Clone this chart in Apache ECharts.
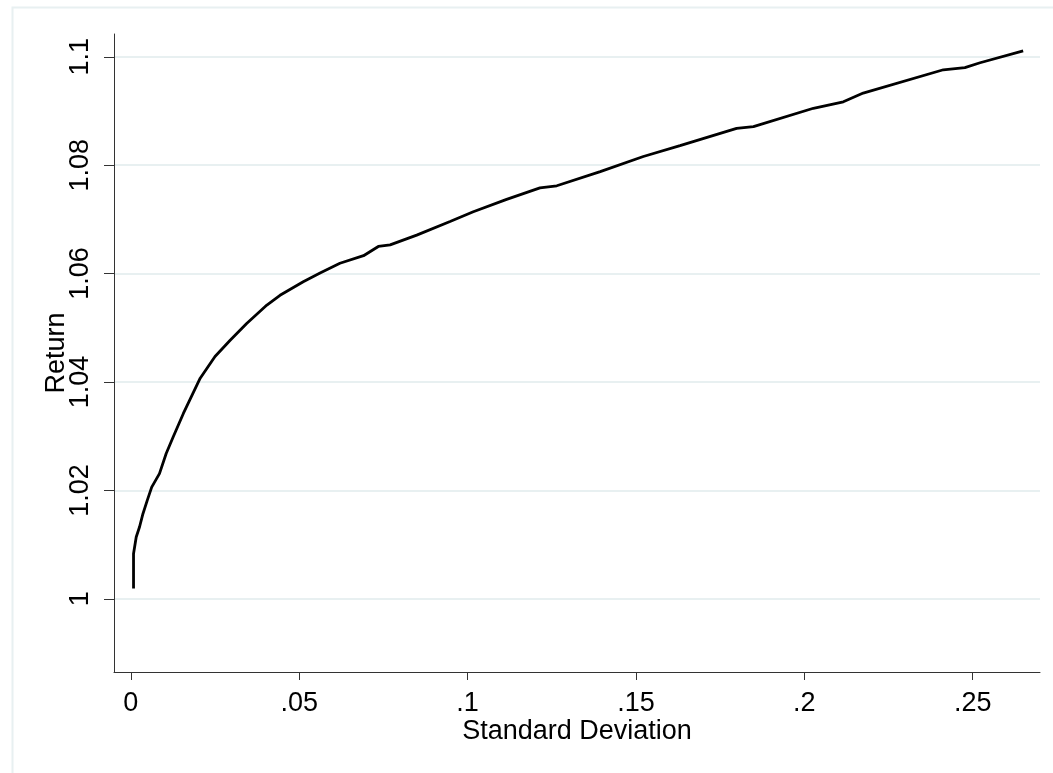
<!DOCTYPE html>
<html>
<head>
<meta charset="utf-8">
<script src="https://cdn.jsdelivr.net/npm/echarts@6/dist/echarts.min.js"></script>
<style>
html,body{margin:0;padding:0;background:#fff;}
#chart{width:1053px;height:773px;}
</style>
</head>
<body>
<div id="chart"></div>
<script>
// Standard deviation (x) and return (y) of the frontier curve
const stdDev = [0.0008,0.0008,0.0016,0.0026,0.0036,0.0049,0.0062,0.0085,0.0105,0.0126,
  0.0156,0.0206,0.0250,0.0295,0.0344,0.0404,0.0443,0.0512,0.0562,0.0621,
  0.0691,0.0735,0.0770,0.0849,0.0948,0.1017,0.1116,0.1215,0.1265,0.1394,
  0.1522,0.1631,0.1799,0.1849,0.2027,0.2116,0.2175,0.2413,0.2477,0.2522,0.2650];
const returns = [1.0019,1.0083,1.0114,1.0133,1.0157,1.0182,1.0206,1.0231,1.0268,1.0299,
  1.0342,1.0407,1.0447,1.0477,1.0508,1.0542,1.0560,1.0585,1.0601,1.0619,
  1.0633,1.0650,1.0653,1.0671,1.0696,1.0714,1.0737,1.0758,1.0762,1.0788,
  1.0816,1.0836,1.0868,1.0871,1.0905,1.0917,1.0933,1.0976,1.0980,1.0989,1.1011];
const xTicks = [0, 0.05, 0.1, 0.15, 0.2, 0.25];
const xTickLabels = ['0', '.05', '.1', '.15', '.2', '.25'];
const yTicks = [1, 1.02, 1.04, 1.06, 1.08, 1.1];
const yTickLabels = ['1', '1.02', '1.04', '1.06', '1.08', '1.1'];

function labelFor(v, ticks, labels) {
  let best = 0, bd = Infinity;
  ticks.forEach((t, i) => { const d = Math.abs(t - v); if (d < bd) { bd = d; best = i; } });
  return labels[best];
}

const chart = echarts.init(document.getElementById('chart'), null, {renderer: 'canvas'});
const font = 'Liberation Sans, Arial, sans-serif';
chart.setOption({
  backgroundColor: '#ffffff',
  animation: false,
  graphic: [{
    type: 'rect', left: 10, top: 5, silent: true, z: -10,
    shape: {width: 1100, height: 820},
    style: {fill: 'none', stroke: '#e8f0f1', lineWidth: 2}
  }],
  grid: {left: 114, top: 34, right: 13, bottom: 101},
  xAxis: {
    type: 'value', min: -0.005, max: 0.27,
    name: 'Standard Deviation', nameLocation: 'middle', nameGap: 46, nameMoveOverlap: false,
    nameTextStyle: {fontFamily: font, fontSize: 27, color: '#000'},
    axisLine: {show: true, onZero: false, lineStyle: {color: '#333', width: 1}},
    axisTick: {show: true, length: 8, customValues: xTicks, lineStyle: {color: '#333', width: 1}},
    axisLabel: {customValues: xTicks, margin: 18, fontFamily: font, fontSize: 27, color: '#000',
      formatter: v => labelFor(v, xTicks, xTickLabels)},
    splitLine: {show: false}
  },
  yAxis: {
    type: 'value', min: 0.9865, max: 1.1042,
    name: 'Return', nameLocation: 'middle', nameGap: 44, nameMoveOverlap: false,
    nameTextStyle: {fontFamily: font, fontSize: 27, color: '#000'},
    axisLine: {show: true, onZero: false, lineStyle: {color: '#333', width: 1}},
    axisTick: {show: true, length: 10, customValues: yTicks, lineStyle: {color: '#333', width: 1}},
    axisLabel: {customValues: yTicks, rotate: 90, margin: 20, fontFamily: font, fontSize: 27, color: '#000',
      formatter: v => labelFor(v, yTicks, yTickLabels)},
    splitLine: {show: true, lineStyle: {color: '#e8f0f1', width: 2}}
  },
  series: [{
    type: 'line',
    data: stdDev.map((x, i) => [x, returns[i]]),
    showSymbol: false, symbol: 'none',
    lineStyle: {color: '#000', width: 2.8},
    z: 5
  }]
});
</script>
</body>
</html>
